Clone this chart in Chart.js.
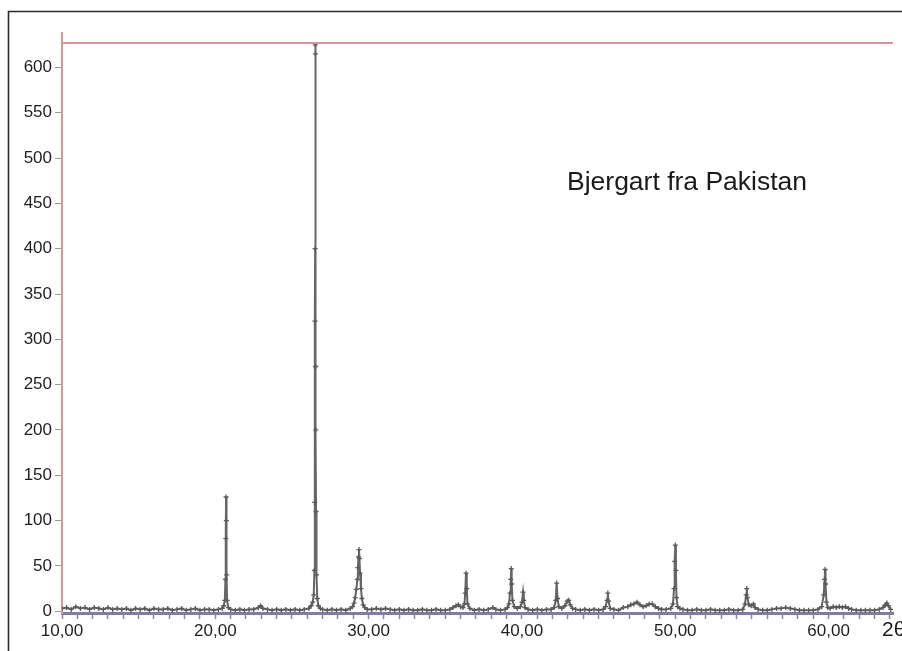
<!DOCTYPE html>
<html>
<head>
<meta charset="utf-8">
<script src="https://cdn.jsdelivr.net/npm/chart.js@4.4.1/dist/chart.umd.min.js"></script>
<style>
  html, body { margin: 0; padding: 0; background: #fff; overflow: hidden; }
  #wrap { position: relative; width: 902px; height: 651px; }
</style>
</head>
<body>
<div id="wrap"><canvas id="xrd" width="902" height="651"></canvas></div>
<script>
const chartTitle = 'Bjergart fra Pakistan';
const xAxisTitle = '2θ';
const yTicks = [0, 50, 100, 150, 200, 250, 300, 350, 400, 450, 500, 550, 600];
const xTicks = [10, 11, 12, 13, 14, 15, 16, 17, 18, 19, 20, 21, 22, 23, 24, 25, 26, 27, 28, 29, 30,
  31, 32, 33, 34, 35, 36, 37, 38, 39, 40, 41, 42, 43, 44, 45, 46, 47, 48, 49, 50,
  51, 52, 53, 54, 55, 56, 57, 58, 59, 60, 61, 62, 63, 64];
const xLabeled = [10, 20, 30, 40, 50, 60];

// [2θ, intensidad]
const scanLow = [
  [10.0, 3], [10.3, 4], [10.6, 2], [10.9, 5], [11.2, 3], [11.5, 4], [11.8, 2], [12.1, 4], [12.4, 3],
  [12.7, 2], [13.0, 4], [13.3, 2], [13.6, 3], [13.9, 2], [14.2, 3], [14.5, 1], [14.8, 3], [15.1, 2],
  [15.4, 3], [15.7, 1], [16.0, 3], [16.3, 2], [16.6, 2], [16.9, 3], [17.2, 1], [17.5, 2], [17.8, 3],
  [18.1, 1], [18.4, 2], [18.7, 3], [19.0, 1], [19.3, 2], [19.6, 2], [19.9, 1], [20.2, 2], [20.45, 3],
  [20.55, 6], [20.62, 12], [20.66, 35], [20.68, 80], [20.7, 126], [20.72, 100], [20.74, 40], [20.77, 12], [20.85, 4],
  [21.0, 2], [21.3, 1], [21.6, 2], [21.9, 1], [22.2, 2], [22.5, 2], [22.8, 4], [22.95, 6], [23.1, 3],
  [23.4, 2], [23.7, 1], [24.0, 2], [24.3, 1], [24.6, 2], [24.9, 1], [25.2, 2], [25.5, 1], [25.8, 2], [26.1, 3]
];
const scanQuartzMain = [
  [26.25, 6], [26.35, 10], [26.42, 18], [26.46, 45], [26.48, 120], [26.5, 320], [26.51, 400], [26.52, 625],
  [26.53, 615], [26.54, 270], [26.55, 200], [26.57, 110], [26.6, 40], [26.65, 14], [26.72, 6], [26.85, 3]
];
const scanMid = [
  [27.0, 2], [27.3, 1], [27.6, 2], [27.9, 1], [28.2, 2], [28.5, 1], [28.8, 3],
  [28.95, 5], [29.05, 9], [29.12, 15], [29.2, 24], [29.26, 35], [29.3, 48], [29.34, 60], [29.37, 68],
  [29.4, 58], [29.44, 42], [29.5, 25], [29.56, 14], [29.64, 7], [29.75, 4], [29.9, 2],
  [30.2, 2], [30.5, 3], [30.8, 2], [31.1, 3], [31.4, 2], [31.7, 1], [32.0, 2], [32.3, 1], [32.6, 2],
  [32.9, 1], [33.2, 1], [33.5, 2], [33.8, 1], [34.1, 1], [34.4, 2], [34.7, 1], [35.0, 1], [35.3, 2],
  [35.5, 4], [35.7, 6], [35.85, 7], [36.0, 5], [36.15, 4], [36.25, 8], [36.3, 20], [36.35, 42], [36.4, 25],
  [36.45, 8], [36.6, 3], [36.9, 1], [37.2, 2], [37.5, 1], [37.8, 2], [38.1, 4], [38.3, 2], [38.6, 1],
  [38.9, 2], [39.05, 4], [39.15, 8], [39.22, 20], [39.27, 35], [39.3, 47], [39.33, 30], [39.38, 12],
  [39.5, 5], [39.7, 3], [39.9, 5], [40.0, 10], [40.07, 21], [40.12, 12], [40.2, 4], [40.4, 2]
];
const scanHigh = [
  [40.7, 1], [41.0, 2], [41.3, 1], [41.6, 2], [41.9, 2], [42.1, 4], [42.2, 12], [42.26, 31], [42.32, 14],
  [42.4, 5], [42.6, 3], [42.8, 6], [42.95, 11], [43.05, 12], [43.15, 7], [43.3, 3], [43.5, 2],
  [43.8, 1], [44.1, 2], [44.4, 1], [44.7, 2], [45.0, 1], [45.3, 2], [45.45, 5], [45.55, 12], [45.6, 20],
  [45.65, 11], [45.75, 3], [46.0, 2], [46.3, 1], [46.6, 4], [46.9, 5], [47.1, 7], [47.3, 8], [47.5, 10],
  [47.7, 7], [47.9, 5], [48.1, 6], [48.3, 8], [48.5, 8], [48.7, 5], [48.9, 3], [49.1, 2], [49.4, 2],
  [49.7, 3], [49.85, 8], [49.92, 25], [49.96, 55], [50.0, 73], [50.04, 45], [50.08, 15], [50.15, 5],
  [50.3, 3], [50.5, 2], [50.8, 1], [51.1, 1], [51.4, 2], [51.7, 1], [52.0, 1], [52.3, 2], [52.6, 1],
  [52.9, 1], [53.2, 1], [53.5, 2], [53.8, 1], [54.1, 1], [54.4, 2], [54.55, 8], [54.62, 18], [54.66, 25],
  [54.7, 15], [54.8, 7], [54.95, 6], [55.1, 8], [55.2, 4], [55.4, 2], [55.7, 1], [56.0, 1], [56.3, 2],
  [56.6, 3], [56.9, 3], [57.2, 4], [57.5, 3], [57.8, 2], [58.1, 1], [58.4, 1], [58.7, 1], [59.0, 1],
  [59.3, 2], [59.55, 5], [59.68, 18], [59.74, 35], [59.77, 46], [59.8, 30], [59.86, 10], [59.95, 4],
  [60.1, 3], [60.3, 5], [60.5, 4], [60.7, 5], [60.9, 4], [61.1, 5], [61.3, 3], [61.5, 2], [61.8, 1],
  [62.1, 1], [62.4, 1], [62.7, 1], [63.0, 1], [63.3, 2], [63.55, 4], [63.7, 7], [63.8, 9], [63.9, 6], [64.05, 2]
];

const scanPoints = [...scanLow, ...scanQuartzMain, ...scanMid, ...scanHigh];

// --- Marco, línea roja superior y textos ---
const decorPlugin = {
  id: 'decor',
  afterDraw(chart) {
    const ctx = chart.ctx;
    const area = chart.chartArea;
    ctx.save();
    // marco negro
    ctx.strokeStyle = '#2a2a2a';
    ctx.lineWidth = 1.6;
    ctx.beginPath();
    ctx.moveTo(8.5, 651); ctx.lineTo(8.5, 11.5); ctx.lineTo(902, 11.5);
    ctx.stroke();
    // línea roja superior y prolongación del eje
    ctx.strokeStyle = '#d9959a';
    ctx.lineWidth = 2;
    ctx.beginPath();
    ctx.moveTo(area.left, area.top); ctx.lineTo(area.right, area.top);
    ctx.moveTo(area.left, area.top); ctx.lineTo(area.left, 32);
    ctx.stroke();
    // título
    ctx.fillStyle = '#1a1a1a';
    ctx.font = '26.5px "Liberation Sans", Arial, sans-serif';
    ctx.textAlign = 'left';
    ctx.textBaseline = 'alphabetic';
    ctx.fillText(chartTitle, 567, 190);
    ctx.font = '21px "Liberation Sans", Arial, sans-serif';
    ctx.fillText(xAxisTitle, 882, 636);
    ctx.restore();
  }
};

const labelFont = { family: '"Liberation Sans", Arial, sans-serif', size: 17 };

new Chart(document.getElementById('xrd'), {
  type: 'scatter',
  data: {
    datasets: [{
      data: scanPoints.map(([x, y]) => ({ x, y })),
      showLine: true,
      borderColor: '#666666',
      borderWidth: 2,
      pointStyle: 'cross',
      pointRadius: 2.5,
      pointBorderWidth: 1.3,
      pointBorderColor: '#5a5a5a',
      tension: 0
    }]
  },
  options: {
    responsive: false,
    animation: false,
    layout: { padding: { top: 43, right: 9, bottom: 0, left: 0 } },
    plugins: { legend: { display: false }, tooltip: { enabled: false } },
    scales: {
      x: {
        type: 'linear', min: 10, max: 64.2,
        afterBuildTicks: s => { s.ticks = xTicks.map(v => ({ value: v })); },
        afterFit: s => { s.height = 38; },
        ticks: {
          autoSkip: false, maxRotation: 0, padding: 2, color: '#1e1e1e', font: labelFont,
          callback: v => xLabeled.includes(v) ? v.toFixed(2).replace('.', ',') : ''
        },
        grid: { drawOnChartArea: false, drawTicks: true, tickLength: 6, tickColor: '#8a86a8', tickWidth: 1.5 },
        border: { color: '#807ca6', width: 3 }
      },
      y: {
        type: 'linear', min: -2, max: 627,
        afterBuildTicks: s => { s.ticks = yTicks.map(v => ({ value: v })); },
        afterFit: s => { s.width = 62; },
        ticks: { padding: 3, color: '#1e1e1e', font: labelFont },
        grid: { drawOnChartArea: false, drawTicks: true, tickLength: 7, tickColor: '#9a9a9a' },
        border: { color: '#d9959a', width: 2 }
      }
    }
  },
  plugins: [decorPlugin]
});
</script>
</body>
</html>
